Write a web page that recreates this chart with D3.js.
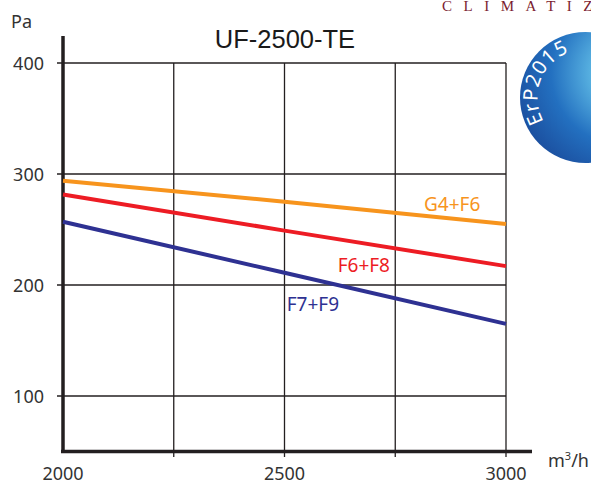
<!DOCTYPE html>
<html>
<head>
<meta charset="utf-8">
<script src="https://cdn.jsdelivr.net/npm/d3@7"></script>
<style>
  body { margin: 0; background: #fff; }
  svg { display: block; }
</style>
</head>
<body>
<div id="chart"></div>
<script>
// Chart data
const airflow = [2000, 2500, 3000];
const seriesNames = ["G4+F6", "F6+F8", "F7+F9"];
const g4f6 = [294, 275, 255];
const f6f8 = [281.5, 249, 217];
const f7f9 = [257, 211, 165];
const xTicks = [2000, 2500, 3000];
const xGrid = [2250, 2500, 2750, 3000];
const yTicks = [100, 200, 300, 400];
const colors = ["#f7941d", "#ed1c24", "#2e3192"];

const width = 591, height = 484;

const svg = d3.select("#chart")
    .append("svg")
    .attr("width", width)
    .attr("height", height);

// Scales
const x = d3.scaleLinear().domain([2000, 3000]).range([63, 506]);
const y = d3.scaleLinear().domain([50, 400]).range([451.5, 63]);

const ink = "#231f20";

// Grid lines
svg.append("g")
    .selectAll("line")
    .data(yTicks)
    .enter()
    .append("line")
    .attr("x1", 57)
    .attr("x2", x(3000))
    .attr("y1", d => y(d))
    .attr("y2", d => y(d))
    .attr("stroke", ink)
    .attr("stroke-width", 1.3);

svg.append("g")
    .selectAll("line")
    .data(xGrid)
    .enter()
    .append("line")
    .attr("x1", d => x(d))
    .attr("x2", d => x(d))
    .attr("y1", y(400))
    .attr("y2", 457)
    .attr("stroke", ink)
    .attr("stroke-width", 1.3);

// Axes (thick lines)
svg.append("line")
    .attr("x1", x(2000)).attr("x2", x(2000))
    .attr("y1", 36).attr("y2", 453)
    .attr("stroke", ink).attr("stroke-width", 3.5);

svg.append("line")
    .attr("x1", 61).attr("x2", 532)
    .attr("y1", y(50)).attr("y2", y(50))
    .attr("stroke", ink).attr("stroke-width", 3.5);

// Tick labels
svg.append("g")
    .selectAll("text")
    .data(yTicks)
    .enter()
    .append("text")
    .attr("x", 44)
    .attr("y", d => y(d) + 7)
    .attr("text-anchor", "end")
    .style("font-family", "'Noto Sans', sans-serif")
    .style("font-size", "18px")
    .attr("fill", "#333")
    .text(d => d);

svg.append("g")
    .selectAll("text")
    .data(xTicks)
    .enter()
    .append("text")
    .attr("x", d => x(d))
    .attr("y", 480)
    .attr("text-anchor", "middle")
    .style("font-family", "'Noto Sans', sans-serif")
    .style("font-size", "18px")
    .attr("fill", "#333")
    .text(d => d);

// Units
svg.append("text")
    .attr("x", 11).attr("y", 28)
    .style("font-family", "'Noto Sans', sans-serif")
    .style("font-size", "18px")
    .attr("fill", "#333")
    .text("Pa");

const unit = svg.append("text")
    .attr("x", 548).attr("y", 467)
    .style("font-family", "'Noto Sans', sans-serif")
    .style("font-size", "18px")
    .attr("fill", "#333");
unit.append("tspan").text("m");
unit.append("tspan").attr("dy", -7).style("font-size", "11px").text("3");
unit.append("tspan").attr("dy", 7).text("/h");

// Title
svg.append("text")
    .attr("x", 285).attr("y", 48)
    .attr("text-anchor", "middle")
    .style("font-family", "'Liberation Sans', Arial, sans-serif")
    .style("font-size", "25.5px")
    .attr("fill", "#1a1a1a")
    .text("UF-2500-TE");

// Series lines
const series = [g4f6, f6f8, f7f9];
const line = d3.line()
    .x((d, i) => x(airflow[i]))
    .y(d => y(d));

svg.append("g")
    .selectAll("path")
    .data(series)
    .enter()
    .append("path")
    .attr("fill", "none")
    .attr("stroke", (d, i) => colors[i])
    .attr("stroke-width", 4)
    .attr("d", d => line(d));

// Series labels
const labelPos = [[2815, 211], [2620, 272], [2505, 311]];
svg.append("g")
    .selectAll("text")
    .data(seriesNames)
    .enter()
    .append("text")
    .attr("x", (d, i) => x(labelPos[i][0]))
    .attr("y", (d, i) => labelPos[i][1])
    .style("font-family", "'Noto Sans', sans-serif")
    .style("font-size", "19px")
    .attr("fill", (d, i) => colors[i])
    .text(d => d);

// Logo: brand text
svg.append("text")
    .attr("x", 442).attr("y", 10.5)
    .style("font-family", "'Liberation Serif', serif")
    .style("font-size", "15px")
    .style("letter-spacing", "11.5px")
    .attr("fill", "#7b1c30")
    .text("CLIMATIZ");

// Logo: ErP globe
const defs = svg.append("defs");
const grad = defs.append("radialGradient")
    .attr("id", "globe")
    .attr("cx", "0.78").attr("cy", "0.3").attr("r", "0.9")
    .attr("fx", "0.82").attr("fy", "0.32");
grad.append("stop").attr("offset", "0%").attr("stop-color", "#c8eef8");
grad.append("stop").attr("offset", "28%").attr("stop-color", "#5ab4e2");
grad.append("stop").attr("offset", "62%").attr("stop-color", "#2370c0");
grad.append("stop").attr("offset", "100%").attr("stop-color", "#1a4a9a");

const gcx = 585.5, gcy = 97.5, gr = 65.5;
svg.append("circle")
    .attr("cx", gcx).attr("cy", gcy).attr("r", gr)
    .attr("fill", "url(#globe)");

const tr = 48;
const a0 = 150 * Math.PI / 180, a1 = 300 * Math.PI / 180;
defs.append("path")
    .attr("id", "erpArc")
    .attr("d", `M${gcx + tr * Math.cos(a0)},${gcy + tr * Math.sin(a0)} A${tr},${tr} 0 0 1 ${gcx + tr * Math.cos(a1)},${gcy + tr * Math.sin(a1)}`);

svg.append("text")
    .style("font-family", "'Noto Sans', sans-serif")
    .style("font-size", "20px")
    .style("letter-spacing", "1px")
    .attr("fill", "#fff")
    .append("textPath")
    .attr("href", "#erpArc")
    .text("ErP2015");
</script>
</body>
</html>
